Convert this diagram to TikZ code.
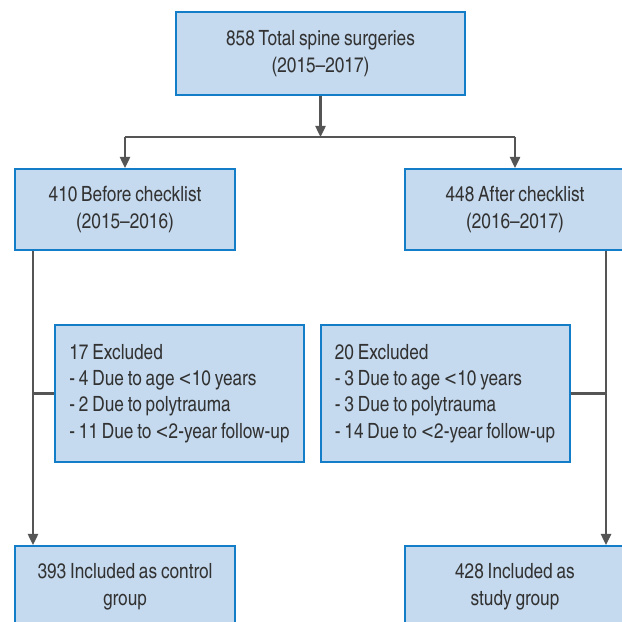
\documentclass[tikz,border=0pt]{standalone}
\usepackage{fontspec}
\setmainfont{texgyreheroscn}[Extension=.otf, UprightFont=*-regular, BoldFont=*-bold, WordSpace=0.8]
\newfontfamily\lessfont{DejaVu Sans}[FakeStretch=0.8, Scale=0.95]
\newcommand{\lsign}{{\lessfont<}}
\usetikzlibrary{arrows.meta}
\definecolor{boxfill}{RGB}{197,218,239}
\definecolor{boxline}{RGB}{20,125,200}
\definecolor{conn}{RGB}{85,85,85}
\definecolor{txt}{RGB}{50,50,50}
\tikzset{
  fbox/.style={draw=boxline, fill=boxfill, line width=2pt, text=txt,
    font=\fontsize{21pt}{27pt}\selectfont, align=center, inner sep=0pt},
  exbox/.style={fbox, align=left, minimum width=249pt, minimum height=137pt,
    font=\fontsize{21pt}{26.3pt}\selectfont},
  lbox/.style={fbox, minimum width=220pt, minimum height=81pt},
  conline/.style={draw=conn, line width=2.4pt},
  arr/.style={conline, -{Triangle[length=11pt,width=10pt]}}
}
\begin{document}
\begin{tikzpicture}[x=1pt,y=1pt]
\useasboundingbox (0,0) rectangle (622,622);
\node[fbox, minimum width=289pt, minimum height=83pt] (top) at (320.5,568.5)
  {858 Total spine surgeries\\(2015--2017)};
\node[lbox] (L1) at (125,412.5) {410 Before checklist\\(2015--2016)};
\node[lbox] (R1) at (515,412.5) {448 After checklist\\(2016--2017)};
\node[exbox] (L2) at (179.5,228.5)
  {17 Excluded\\- 4 Due to age \lsign10 years\\- 2 Due to polytrauma\\- 11 Due to \lsign2-year follow-up};
\node[exbox] (R2) at (445,228.5)
  {20 Excluded\\- 3 Due to age \lsign10 years\\- 3 Due to polytrauma\\- 14 Due to \lsign2-year follow-up};
\node[lbox] (B1) at (125,35.5) {393 Included as control\\group};
\node[lbox] (B2) at (515,35.5) {428 Included as\\study group};
\coordinate (hl) at (125,485);
\coordinate (hr) at (515,485);
\coordinate (vl) at (33,0);
\coordinate (vr) at (606,0);
\draw[arr] (top.south) -- (top.south |- hl);
\draw[conline] (hl) -- (hr);
\draw[arr] (hl) -- (L1.north);
\draw[arr] (hr) -- (R1.north);
\draw[arr] (L1.south -| vl) -- (B1.north -| vl);
\draw[arr] (R1.south -| vr) -- (B2.north -| vr);
\draw[conline] (L2.west) -- (L2.west -| vl);
\draw[conline] (R2.east) -- (R2.east -| vr);
\end{tikzpicture}
\end{document}
